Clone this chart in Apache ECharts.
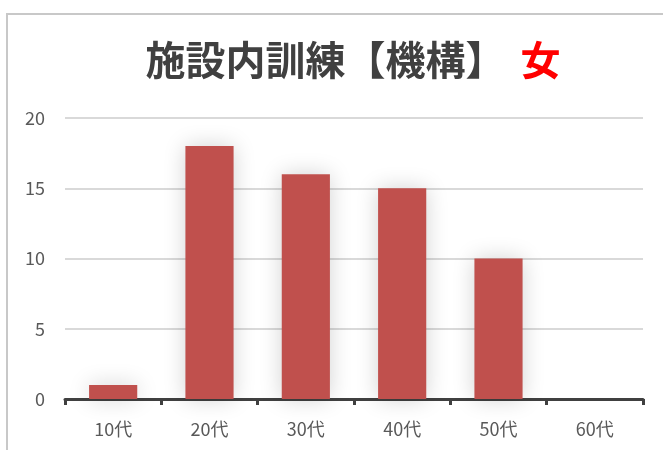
<!DOCTYPE html>
<html>
<head>
<meta charset="utf-8">
<script src="https://cdn.jsdelivr.net/npm/echarts@6/dist/echarts.min.js"></script>
<style>
  html, body { margin: 0; padding: 0; background: #fff; }
  #chart { width: 663px; height: 450px; }
</style>
</head>
<body>
<div id="chart"></div>
<script>
// data
const categories = ['10代', '20代', '30代', '40代', '50代', '60代'];
const counts = [1, 18, 16, 15, 10, 0];
const yTicks = { min: 0, max: 20, interval: 5 };

const chart = echarts.init(document.getElementById('chart'));
const jpFont = '"Noto Sans CJK JP", "Noto Sans", sans-serif';

chart.setOption({
    animation: false,
    title: {
        text: '{a|施設内訓練【機構】}{g|}{b|女}',
        left: 348,
        top: 35,
        textAlign: 'center',
        textStyle: {
            rich: {
                a: { fontFamily: jpFont, fontSize: 40, fontWeight: 'bold', color: '#404040' },
                g: { width: 15 },
                b: { fontFamily: jpFont, fontSize: 40, fontWeight: 'bold', color: '#ff0000' }
            }
        }
    },
    graphic: [{
        type: 'rect',
        shape: { x: 7, y: 14, width: 800, height: 600 },
        style: { fill: 'none', stroke: '#c8c8c8', lineWidth: 2 },
        z: -1
    }],
    grid: { left: 65, right: 20, top: 118, bottom: 51 },
    xAxis: {
        type: 'category',
        data: categories,
        axisLine: { lineStyle: { color: '#404040', width: 3 } },
        axisTick: { show: true, length: 6, lineStyle: { color: '#404040', width: 3 } },
        axisLabel: { color: '#595959', fontSize: 18, fontFamily: jpFont, margin: 21 }
    },
    yAxis: {
        type: 'value',
        min: yTicks.min,
        max: yTicks.max,
        interval: yTicks.interval,
        axisLine: { show: false },
        axisTick: { show: false },
        axisLabel: { color: '#595959', fontSize: 18, fontFamily: jpFont, margin: 20 },
        splitLine: { lineStyle: { color: '#d9d9d9', width: 2 } }
    },
    series: [{
        type: 'bar',
        data: counts,
        barWidth: '50%',
        itemStyle: {
            color: '#c0504d',
            shadowColor: 'rgba(0,0,0,0.18)',
            shadowBlur: 22
        }
    }]
});
</script>
</body>
</html>
